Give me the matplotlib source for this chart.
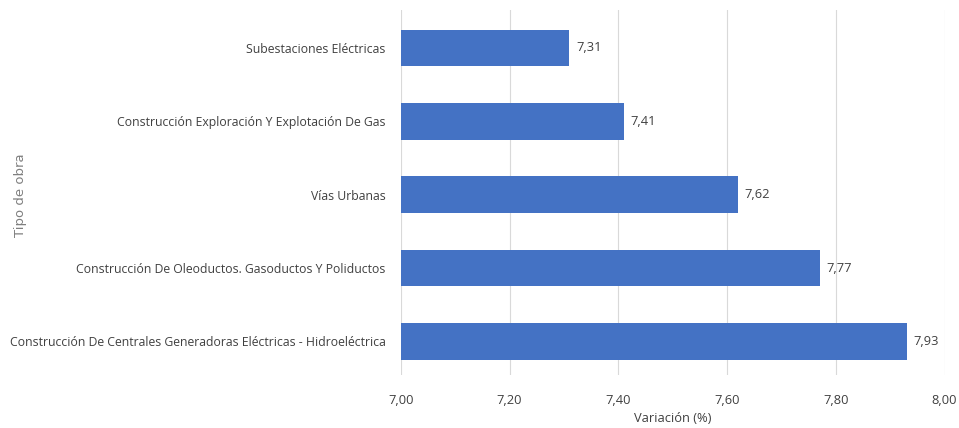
import matplotlib
matplotlib.use("Agg")
import matplotlib.pyplot as plt
from matplotlib.ticker import FuncFormatter

# Data
categories = [
    "Construcción De Centrales Generadoras Eléctricas - Hidroeléctrica",
    "Construcción De Oleoductos. Gasoductos Y Poliductos",
    "Vías Urbanas",
    "Construcción Exploración Y Explotación De Gas",
    "Subestaciones Eléctricas",
]
values = [7.93, 7.77, 7.62, 7.41, 7.31]
x_ticks = [7.00, 7.20, 7.40, 7.60, 7.80, 8.00]

BAR_COLOR = "#4472C4"
TEXT_COLOR = "#404040"
GRID_COLOR = "#D9D9D9"

plt.rcParams["font.family"] = ["Open Sans", "DejaVu Sans"]

fig = plt.figure(figsize=(9.59, 4.28), dpi=100)
ax = fig.add_axes([0.418, 0.124, 0.567, 0.853])

ypos = list(range(len(categories)))
ax.barh(ypos, [v - 7.0 for v in values], left=7.0, height=0.5,
        color=BAR_COLOR, zorder=3)

# Data labels
for y, v in zip(ypos, values):
    ax.text(v + 0.012, y, f"{v:.2f}".replace(".", ","), va="center", ha="left",
            fontsize=9.3, color=TEXT_COLOR)

ax.set_xlim(7.0, 8.0)
ax.set_ylim(-0.456, 4.52)
ax.set_xticks(x_ticks)
ax.xaxis.set_major_formatter(FuncFormatter(lambda x, _: f"{x:.2f}".replace(".", ",")))
ax.set_yticks(ypos)
ax.set_yticklabels(categories, fontsize=8.8)

ax.grid(axis="x", color=GRID_COLOR, linewidth=0.8, zorder=0)
for s in ax.spines.values():
    s.set_visible(False)
ax.tick_params(axis="both", length=0, labelcolor=TEXT_COLOR)
ax.tick_params(axis="x", pad=14, labelsize=9.3)
ax.tick_params(axis="y", pad=11)

ax.set_xlabel("Variación (%)", fontsize=9.3, color=TEXT_COLOR, labelpad=3)
fig.text(0.021, 0.545, "Tipo de obra", rotation=90, va="center", ha="center",
         fontsize=9.5, color="#7F7F7F", family=["DejaVu Sans"])

fig.savefig("out.png", dpi=100)
